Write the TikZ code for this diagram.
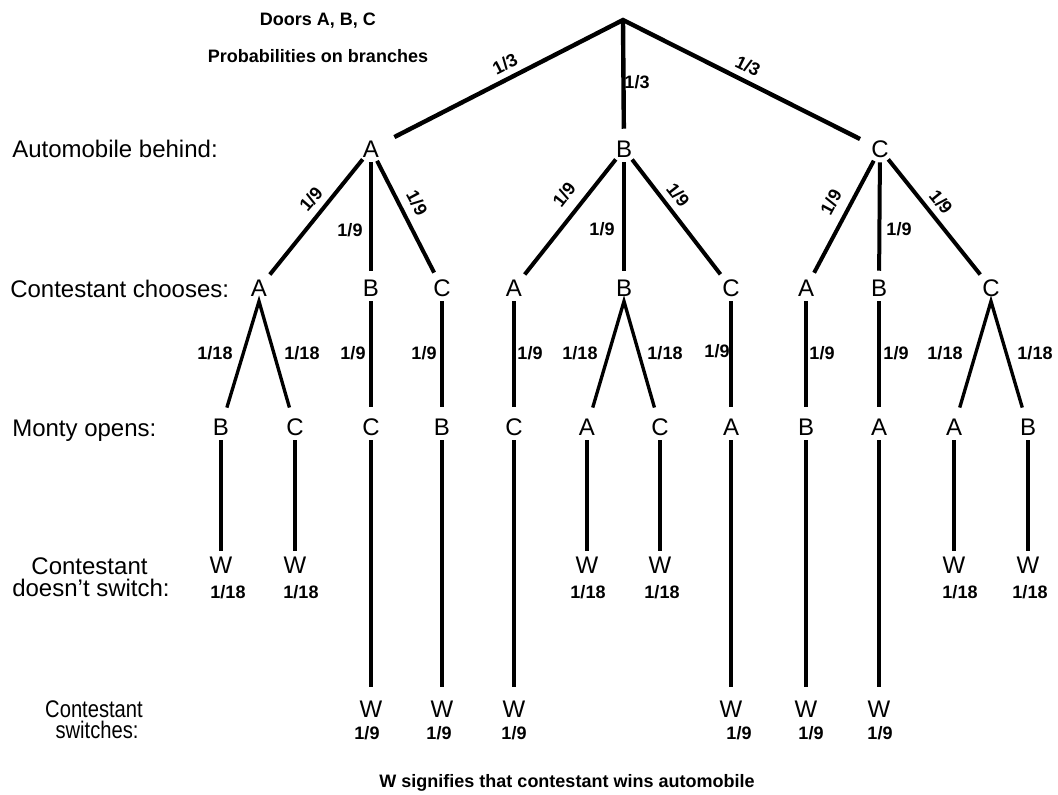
\documentclass[tikz,border=0pt]{standalone}
\usepackage{fontspec}
\setmainfont{Liberation Sans}
\usepackage{graphicx}
\begin{document}
\begin{tikzpicture}[x=0.75pt,y=-0.75pt,
  lt/.style={circle,inner sep=0pt,minimum size=19.5pt,font=\fontsize{18}{20}\selectfont},
  rowlab/.style={anchor=base west,inner sep=0pt,font=\fontsize{18}{20}\selectfont},
  rowlabc/.style={anchor=base,inner sep=0pt,font=\fontsize{18}{20}\selectfont},
  pr/.style={inner sep=0pt,font=\bfseries\fontsize{13.5}{15}\selectfont},
  hd/.style={anchor=base,inner sep=0pt,font=\bfseries\fontsize{13.5}{15}\selectfont},
  topbr/.style={line width=3.3pt},
  midbr/.style={line width=3pt},
  lowbr/.style={line width=2.5pt},
]
\useasboundingbox (0,0) rectangle (1058,794);

% headings and caption
\node[hd] (h1) at (318,25.5) {Doors A, B, C};
\node[hd] (h2) at (318,62.5) {Probabilities on branches};
\node[hd] (cap) at (567,787) {W signifies that contestant wins automobile};

% row labels
\node[rowlab] (r1) at (12,157.5) {Automobile behind:};
\node[rowlab] (r2) at (10,297) {Contestant chooses:};
\node[rowlab] (r3) at (12,436) {Monty opens:};
\node[rowlabc] (r4a) at (89.5,574) {Contestant};
\node[rowlabc] (r4b) at (91,596) {doesn't switch:};
\node[rowlabc] (r5a) at (94,717.5) {\scalebox{0.84}[1]{Contestant}};
\node[rowlabc] (r5b) at (97,738) {\scalebox{0.84}[1]{switches:}};

% root and level 1
\coordinate (root) at (623,20);
\node[lt] (A1) at (371,149) {A};
\node[lt] (B1) at (624,149) {B};
\node[lt] (C1) at (880,149) {C};
\draw[topbr, shorten <=9.75pt, shorten >=6.75pt] (A1) -- (root) -- (C1);
\draw[topbr, shorten >=5.25pt] (root) -- (B1);
\node[pr, rotate=27] (t1) at (505,64) {1/3};
\node[pr] (t2) at (637,82) {1/3};
\node[pr, rotate=-26] (t3) at (748,66) {1/3};

% level 2
\node[lt] (lA) at (259,288) {A};
\node[lt] (lB) at (371,288) {B};
\node[lt] (lC) at (442,288) {C};
\node[lt] (mA) at (514,288) {A};
\node[lt] (mB) at (624,288) {B};
\node[lt] (mC) at (731,288) {C};
\node[lt] (nA) at (806,288) {A};
\node[lt] (nB) at (879,288) {B};
\node[lt] (nC) at (991,288) {C};
\foreach \p/\c in {A1/lA,A1/lB,A1/lC,B1/mA,B1/mB,B1/mC,C1/nA,C1/nB,C1/nC}
  \draw[midbr, shorten >=3pt] (\p) -- (\c);
\node[pr, rotate=49] (d1) at (311,199) {1/9};
\node[pr] (d2) at (350,230) {1/9};
\node[pr, rotate=-62] (d3) at (417,203) {1/9};
\node[pr, rotate=52] (d4) at (564,195) {1/9};
\node[pr] (d5) at (602,229) {1/9};
\node[pr, rotate=-52] (d6) at (678,195) {1/9};
\node[pr, rotate=62] (d7) at (831,202) {1/9};
\node[pr] (d8) at (899,229) {1/9};
\node[pr, rotate=-51] (d9) at (941,202) {1/9};

% level 3 (Monty opens)
\node[lt] (o1) at (221,427) {B};
\node[lt] (o2) at (295,427) {C};
\node[lt] (o3) at (371,427) {C};
\node[lt] (o4) at (442,427) {B};
\node[lt] (o5) at (514,427) {C};
\node[lt] (o6) at (587,427) {A};
\node[lt] (o7) at (660,427) {C};
\node[lt] (o8) at (731,427) {A};
\node[lt] (o9) at (806,427) {B};
\node[lt] (o10) at (879,427) {A};
\node[lt] (o11) at (954,427) {A};
\node[lt] (o12) at (1028,427) {B};
\draw[lowbr, shorten <=5.25pt, shorten >=5.25pt] (o1) -- (lA.south) -- (o2);
\draw[lowbr, shorten <=5.25pt, shorten >=5.25pt] (o6) -- (mB.south) -- (o7);
\draw[lowbr, shorten <=5.25pt, shorten >=5.25pt] (o11) -- (nC.south) -- (o12);
\foreach \p/\c in {lB/o3,lC/o4,mA/o5,mC/o8,nA/o9,nB/o10}
  \draw[lowbr, shorten >=5.25pt] (\p) -- (\c);
\node[pr] (e1) at (215,353) {1/18};
\node[pr] (e2) at (302,353) {1/18};
\node[pr] (e3) at (353,353) {1/9};
\node[pr] (e4) at (424,353) {1/9};
\node[pr] (e5) at (530,353) {1/9};
\node[pr] (e6) at (580,353) {1/18};
\node[pr] (e7) at (665,353) {1/18};
\node[pr] (e8) at (717,351) {1/9};
\node[pr] (e9) at (822,353) {1/9};
\node[pr] (e10) at (896,353) {1/9};
\node[pr] (e11) at (945,353) {1/18};
\node[pr] (e12) at (1035,353) {1/18};

% level 4 (doesn't switch)
\node[lt] (w1) at (221,565) {W};
\node[lt] (w2) at (295,565) {W};
\node[lt] (w6) at (587,565) {W};
\node[lt] (w7) at (660,565) {W};
\node[lt] (w11) at (954,565) {W};
\node[lt] (w12) at (1028,565) {W};
\foreach \p/\c in {o1/w1,o2/w2,o6/w6,o7/w7,o11/w11,o12/w12}
  \draw[lowbr] (\p) -- (\c);
\node[pr] (q1) at (228,592) {1/18};
\node[pr] (q2) at (301,592) {1/18};
\node[pr] (q6) at (588,592) {1/18};
\node[pr] (q7) at (662,592) {1/18};
\node[pr] (q11) at (960,592) {1/18};
\node[pr] (q12) at (1030,592) {1/18};

% level 5 (switches)
\node[lt] (w3) at (371,709) {W};
\node[lt] (w4) at (442,709) {W};
\node[lt] (w5) at (514,709) {W};
\node[lt] (w8) at (731,709) {W};
\node[lt] (w9) at (806,709) {W};
\node[lt] (w10) at (879,709) {W};
\foreach \p/\c in {o3/w3,o4/w4,o5/w5,o8/w8,o9/w9,o10/w10}
  \draw[lowbr, shorten >=6pt] (\p) -- (\c);
\node[pr] (q3) at (367,733) {1/9};
\node[pr] (q4) at (439,733) {1/9};
\node[pr] (q5) at (514,733) {1/9};
\node[pr] (q8) at (739,733) {1/9};
\node[pr] (q9) at (811,733) {1/9};
\node[pr] (q10) at (880,733) {1/9};
\end{tikzpicture}
\end{document}
